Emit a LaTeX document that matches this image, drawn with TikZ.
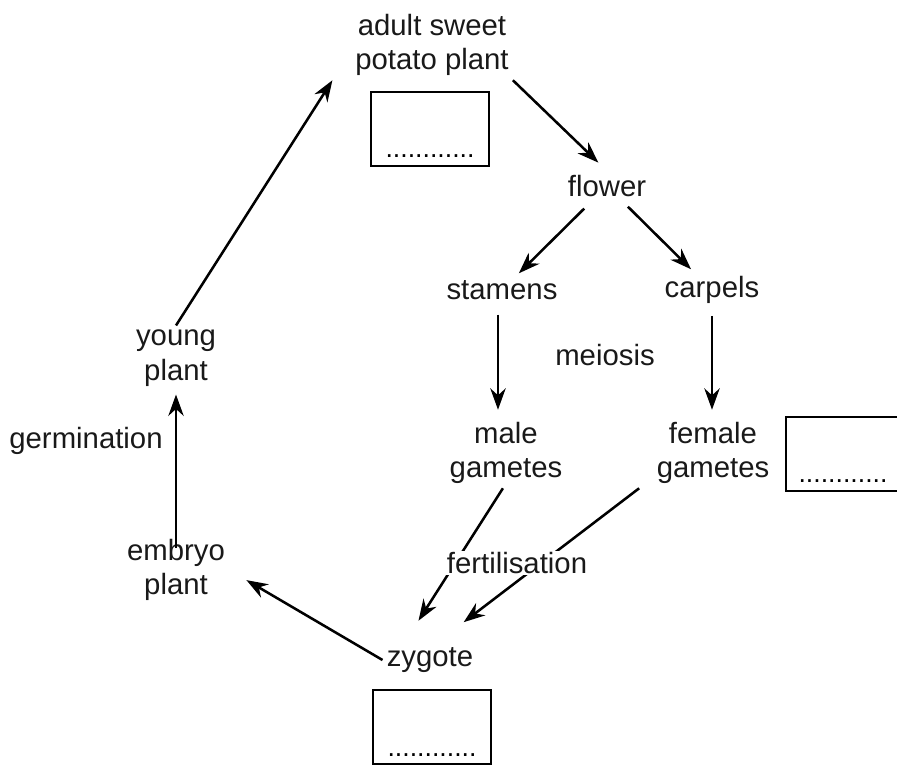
\documentclass[tikz,border=0pt]{standalone}
\usepackage{fontspec}
\setmainfont{Liberation Sans}
\usetikzlibrary{arrows.meta}

\begin{document}
\begin{tikzpicture}[x=0.75pt,y=-0.75pt]
    %
    % `stage' is used for the text of each stage of the cycle.
    % `arrow' is used for the connectors.
    % `answer' is used for the empty boxes, `dots' for the line inside them.
    \tikzstyle{stage} = [align=center,inner sep=3pt,font=\fontsize{22}{26}\selectfont,text=black!90]
    \tikzstyle{arrow} = [line width=1.9pt,-{Stealth[length=16pt,width=11.5pt]}]
    \tikzstyle{answer} = [draw,line width=1.7pt,minimum width=89pt,minimum height=55pt,inner sep=0pt]
    \tikzstyle{dots} = [anchor=base,inner sep=0pt,font=\fontsize{20}{26}\selectfont]
    %
    \clip (0,0) rectangle (897,765);
    %
    % Top of the cycle
    \node[stage] at (432,45) (adult) {adult sweet\\potato plant};
    \node[answer] at (430,129) (adultbox) {};
    \node[dots] at (430,157) (adultdots) {............};
    \node[stage] at (607,186) (flower) {flower};
    %
    % Flower parts
    \node[stage] at (502,290) (stamens) {stamens};
    \node[stage] at (712,290) (carpels) {carpels};
    \node[stage] at (605,355) (meiosis) {meiosis};
    %
    % Gametes
    \node[stage] at (506,453) (male) {male\\gametes};
    \node[stage] at (713,453) (female) {female\\gametes};
    \node[answer] at (845,454) (femalebox) {};
    \node[dots] at (843,482) (femaledots) {............};
    %
    % Left side
    \node[stage] at (176,358) (young) {young\\plant};
    \node[stage] at (86,441) (germination) {germination};
    \node[stage] at (176,570) (embryo) {embryo\\plant};
    %
    % Bottom
    \node[stage] at (430,660) (zygote) {zygote};
    \node[answer] at (432,727) (zygotebox) {};
    \node[dots] at (432,756) (zygotedots) {............};
    %
    % Arrows
    \draw[arrow] (young.north) -- ([xshift=-14pt]adult.south west);
    \draw[arrow,shorten >=9pt] (adult.south east) -- (flower.north);
    \draw[arrow,shorten <=8pt,shorten >=3pt] (flower) -- (stamens);
    \draw[arrow,shorten <=6pt,shorten >=3pt] (flower) -- (carpels);
    \draw[arrow,shorten <=8pt,shorten >=6pt] ([xshift=-3pt]stamens.south) -- ([xshift=-3pt]stamens.south |- male.north);
    \draw[arrow,shorten <=6pt,shorten >=6pt] (carpels.south) -- (carpels.south |- female.north);
    \draw[arrow,shorten <=-10pt,shorten >=3pt] (embryo) -- (young);
    \draw[arrow,shorten >=15pt] (zygote.west) -- (embryo.east);
    \draw[arrow,shorten >=20pt] (male.265) -- (zygote.147);
    \draw[arrow,shorten <=0pt,shorten >=26pt] ([xshift=-10pt]female.south west) -- (zygote.70);
    %
    % Label over the two lines
    \node[stage,fill=white,inner sep=1pt] at (517,563) (fert) {fertilisation};
    %
\end{tikzpicture}
\end{document}
